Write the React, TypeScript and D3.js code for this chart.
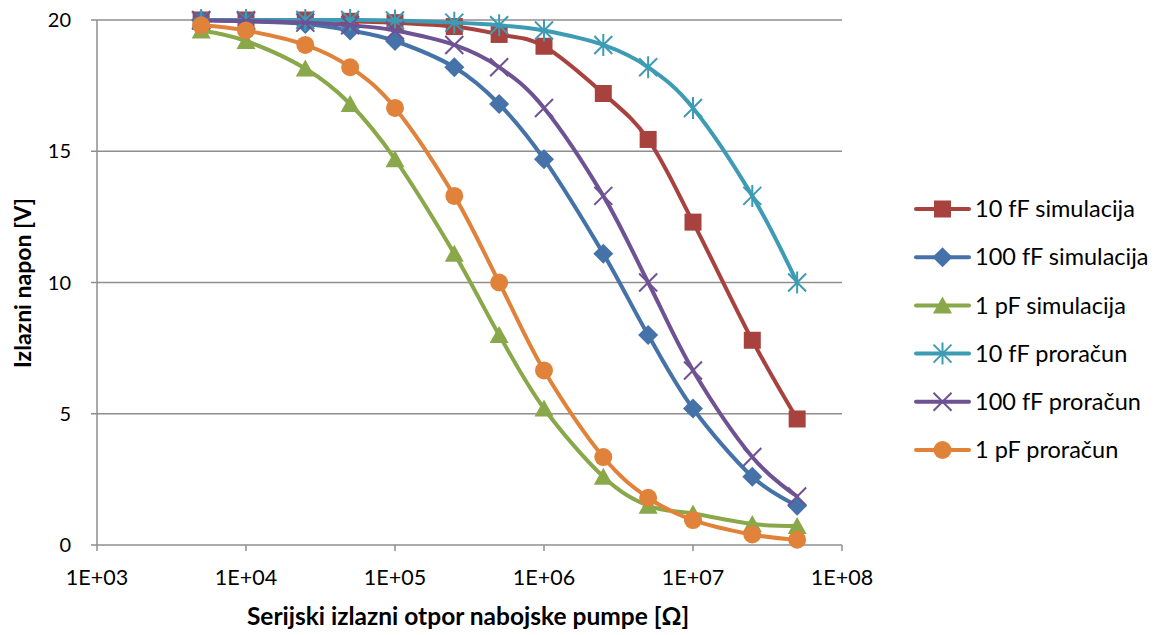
import React, { useEffect, useRef } from "react";
import * as d3 from "d3";

const resistances = [5e3, 1e4, 2.5e4, 5e4, 1e5, 2.5e5, 5e5, 1e6, 2.5e6, 5e6, 1e7, 2.5e7, 5e7];
const sim10fF = [20, 20, 20, 19.95, 19.9, 19.75, 19.45, 19.0, 17.2, 15.45, 12.3, 7.8, 4.8];
const sim100fF = [20, 19.95, 19.85, 19.6, 19.2, 18.2, 16.8, 14.7, 11.1, 8.0, 5.2, 2.6, 1.5];
const sim1pF = [19.6, 19.2, 18.15, 16.8, 14.7, 11.1, 8.0, 5.2, 2.6, 1.5, 1.2, 0.8, 0.72];
const calc10fF = [20, 20, 20, 20, 19.98, 19.9, 19.8, 19.6, 19.05, 18.2, 16.65, 13.3, 10.0];
const calc100fF = [19.98, 19.96, 19.9, 19.8, 19.6, 19.05, 18.2, 16.65, 13.3, 10.0, 6.65, 3.35, 1.85];
const calc1pF = [19.8, 19.6, 19.05, 18.2, 16.65, 13.3, 10.0, 6.65, 3.35, 1.8, 0.95, 0.4, 0.2];

const seriesNames = ["10 fF simulacija", "100 fF simulacija", "1 pF simulacija", "10 fF proračun", "100 fF proračun", "1 pF proračun"];
const seriesValues = [sim10fF, sim100fF, sim1pF, calc10fF, calc100fF, calc1pF];
const seriesColors = ["#A8423F", "#4472A9", "#89A84A", "#3D9BB3", "#6E5293", "#E0823A"];
const seriesMarkers = ["square", "diamond", "triangle", "asterisk", "x", "circle"];

const xTicks = [1e3, 1e4, 1e5, 1e6, 1e7, 1e8];
const xTickLabels = ["1E+03", "1E+04", "1E+05", "1E+06", "1E+07", "1E+08"];
const yTicks = [0, 5, 10, 15, 20];

const FONT = "Lato, 'Open Sans', sans-serif";

function drawMarker(g: any, type: string, x: number, y: number, color: string) {
  const s = 9;
  if (type === "square") {
    g.append("rect").attr("x", x - 8.5).attr("y", y - 8.5).attr("width", 17).attr("height", 17).attr("fill", color);
  } else if (type === "diamond") {
    g.append("path").attr("d", `M${x},${y - 10}L${x + 10},${y}L${x},${y + 10}L${x - 10},${y}Z`).attr("fill", color);
  } else if (type === "triangle") {
    g.append("path").attr("d", `M${x},${y - 9}L${x + 9.5},${y + 8}L${x - 9.5},${y + 8}Z`).attr("fill", color);
  } else if (type === "circle") {
    g.append("circle").attr("cx", x).attr("cy", y).attr("r", 9).attr("fill", color);
  } else if (type === "x") {
    g.append("path").attr("d", `M${x - s},${y - s}L${x + s},${y + s}M${x - s},${y + s}L${x + s},${y - s}`)
      .attr("stroke", color).attr("stroke-width", 2).attr("fill", "none");
  } else if (type === "asterisk") {
    g.append("path").attr("d", `M${x - s},${y - s}L${x + s},${y + s}M${x - s},${y + s}L${x + s},${y - s}M${x},${y - 11}L${x},${y + 11}`)
      .attr("stroke", color).attr("stroke-width", 2).attr("fill", "none");
  }
}

export default function App() {
  const ref = useRef<SVGSVGElement>(null);
  useEffect(() => {
    const svg = d3.select(ref.current);
    svg.selectAll("*").remove();
    const left = 97, right = 842, top = 20, bottom = 545;
    const x = d3.scaleLog().domain([1e3, 1e8]).range([left, right]);
    const y = d3.scaleLinear().domain([0, 20]).range([bottom, top]);
    const grid = "#8E8E8E";

    svg.append("g").selectAll("line").data(yTicks.filter((t) => t > 0)).enter().append("line")
      .attr("x1", left).attr("x2", right).attr("y1", (d) => y(d)).attr("y2", (d) => y(d))
      .attr("stroke", grid).attr("stroke-width", 1.5);

    svg.append("line").attr("x1", left).attr("x2", left).attr("y1", top).attr("y2", bottom).attr("stroke", grid).attr("stroke-width", 1.5);
    svg.append("line").attr("x1", left).attr("x2", right).attr("y1", bottom).attr("y2", bottom).attr("stroke", grid).attr("stroke-width", 1.5);
    yTicks.forEach((t) => {
      svg.append("line").attr("x1", left - 6).attr("x2", left).attr("y1", y(t)).attr("y2", y(t)).attr("stroke", grid).attr("stroke-width", 1.5);
      svg.append("text").attr("x", 71).attr("y", y(t)).attr("dy", "0.35em").attr("text-anchor", "end")
        .attr("font-family", FONT).attr("font-size", 20).attr("fill", "#000").text(String(t));
    });
    xTicks.forEach((t, i) => {
      svg.append("line").attr("x1", x(t)).attr("x2", x(t)).attr("y1", bottom).attr("y2", bottom + 6).attr("stroke", grid).attr("stroke-width", 1.5);
      svg.append("text").attr("x", x(t)).attr("y", 577).attr("dy", "0.35em").attr("text-anchor", "middle")
        .attr("font-family", FONT).attr("font-size", 21.5).attr("fill", "#000").text(xTickLabels[i]);
    });

    svg.append("text").attr("x", 468).attr("y", 616).attr("dy", "0.35em").attr("text-anchor", "middle")
      .attr("font-family", FONT).attr("font-weight", "bold").attr("font-size", 24.5).text("Serijski izlazni otpor nabojske pumpe [Ω]");
    svg.append("text").attr("transform", `translate(23,283) rotate(-90)`).attr("dy", "0.35em").attr("text-anchor", "middle")
      .attr("font-family", FONT).attr("font-weight", "bold").attr("font-size", 23).text("Izlazni napon [V]");

    const line = d3.line<number>().x((_, i) => x(resistances[i])).y((d) => y(d)).curve(d3.curveCatmullRom.alpha(0));

    seriesValues.forEach((vals, si) => {
      const g = svg.append("g");
      g.append("path").attr("d", line(vals) as string).attr("fill", "none").attr("stroke", seriesColors[si])
        .attr("stroke-width", 4).attr("stroke-linejoin", "round").attr("stroke-linecap", "round");
      vals.forEach((v, i) => drawMarker(g, seriesMarkers[si], x(resistances[i]), y(v), seriesColors[si]));
    });

    seriesNames.forEach((name, si) => {
      const ly = 209 + si * 48.2;
      const g = svg.append("g");
      g.append("line").attr("x1", 916).attr("x2", 969).attr("y1", ly).attr("y2", ly).attr("stroke", seriesColors[si])
        .attr("stroke-width", 4).attr("stroke-linecap", "round");
      drawMarker(g, seriesMarkers[si], 942.5, ly, seriesColors[si]);
      g.append("text").attr("x", 975).attr("y", ly).attr("dy", "0.35em").attr("font-family", FONT).attr("font-size", 23.5)
        .attr("fill", "#000").text(name);
    });
  }, []);
  return <svg ref={ref} width={1160} height={635} style={{ position: "absolute", left: 0, top: 0, background: "#fff" }} />;
}
